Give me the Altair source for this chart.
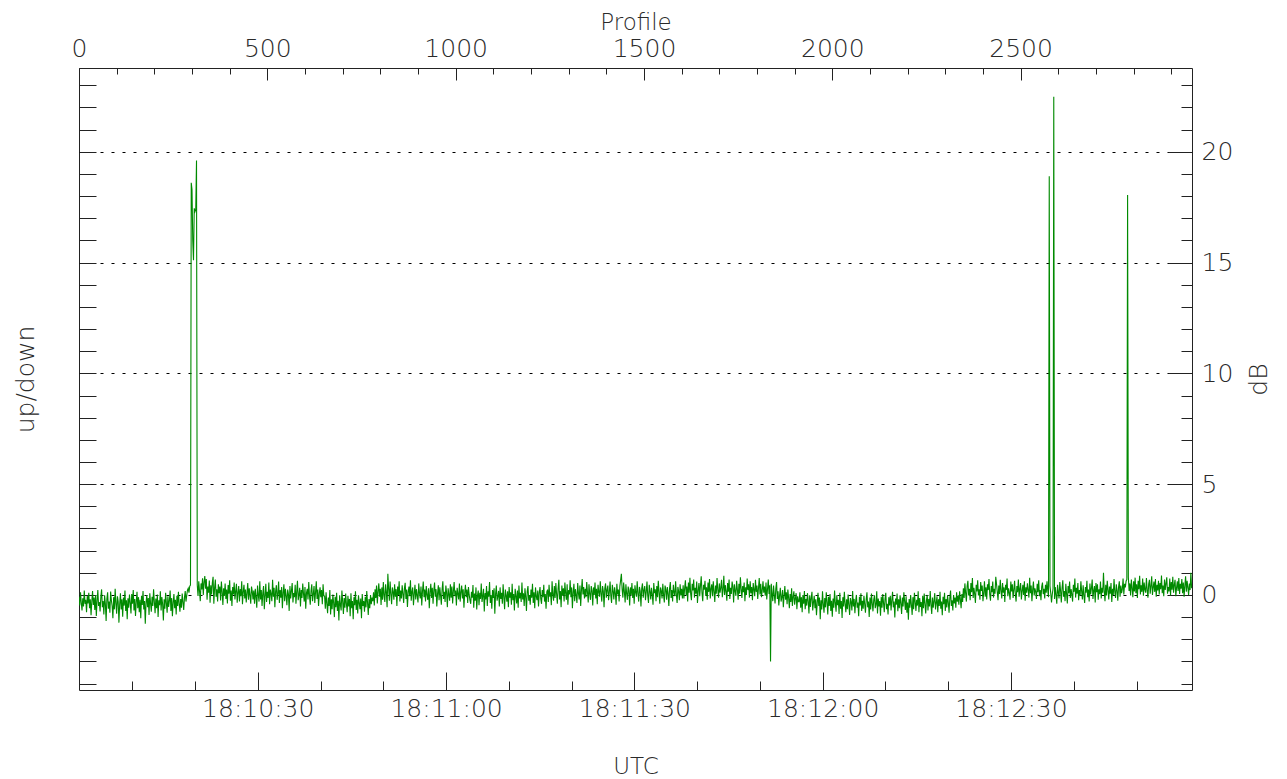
import altair as alt
import pandas as pd

# ---------------- data ----------------
# signal in hundredths of a dB, one sample every STEP profiles
STEP = 2

seg_0 = [
    -10, -48, 12, -35, -70, -15, -52, 20, -40, -22,
    -78, -5, -38, 10, -60, -20, -92, -30, 18, -45,
    -12, -68, 0, -95, -25, 22, -50, -32, -75, -8,
    25, -55, -28, -88, -2, -40, -118, -18, 12, -62,
    -30, -80, 15, -25, -50, -105, -10, -65, 28, -38,
    -85, -6, -30, -125, -42, 8, -66, -20, -98, -12,
    -48, 20, -72, -24, -110, -15, -58, 2, -35, -84,
    4, -40, 22, -70, -18, -95, -32, 14, -60, -10,
    -78, -22, -105, -4, -45, 18, -66, -28, -130, -36,
    0, -55, -14, -90, 8, -38, -76, -8, -50, 26,
    -30, -82, -16, -60, 2, -100, -24, -46, 16, -70,
    -10, -42, -115, -20, -62, 10, -36, -80, -6, -54,
    -26, 20, -72, -14, -96, -34, 4, -60, -22, -88,
    -4, -50, 14, -40, -76, -18, -58, 6, -32, -68,
    -12, 18, -30, -2, 22, 30, 10, 40, 45,
]
spike_298 = [1860, 1830, 1600, 1510, 1745, 1730, 1740, 1960]
seg_314 = [
    45, -5, 62, 18, -28, 52, 25, 75, 0, 58,
    85, 28, 72, -22, 38, 10, 65, -35, 44, 2,
    55, 82, -40, 32, 70, -8, 25, -30, 48, 8,
    38, -25, 60, 15, -45, 30, -4, 52, -18, 24,
    -38, 45, 6, 66, -26, 20, -50, 36, 2, 56,
    -20, 16, 50, -35, 10, 40, -30, 26, -6, 62,
    -42, 14, 46, -16, 24, -34, 8, 54, -22, 30,
    -2, -40, 38, 16, -20,
]
seg_464 = [
    20, -40, 28, -10, -58, 42, 0, -30, 62, -20,
    22, -50, 8, 40, -65, -2, 50, -32, 14, -14,
    56, -42, 24, 4, -28, 68, -8, 32, -55, 16,
    44, -22, 6, 60, -36, 22, -12, 36, -60, 10,
    48, -28, 28, -4, -46, 24, 4, -72, 40, -16,
    18, 54, -34, 8, -10, 46, -40, 14, 64, -24,
    0, 32, -52, 22, -14, 52, 6, -30, 36, -62,
    10, 28, -20, 58, -6, -44, 18, 48, -28, 2,
    40, -36, 12, 62, -18, 24, -50, 6, 34, -10,
    22, -42, 48, -4,
]
seg_652 = [
    -5, -62, 12, -40, -82, -12, -50, 22, -88, -20,
    -64, 2, -34, -100, -8, -55, 10, -72, -26, -115,
    -2, -45, -70, 20, -30, -86, -14, -58, 6, -40,
    -78, -4, -52, -18, -96, 8, -60, -28, -110, -10,
    -46, 16, -68, -22, -84, -2, -36, -64, -16, -105,
    4, -50, -28, -76, -8, -56, 18, -34, -90, -18,
    -60, 0, -42, -12,
]
seg_780 = [
    -28, 12, -48, 25, -14, 42, -38, 16, 52, -8,
    28, -45, 34, -22, 58, -2, -32, 48, 12, -56,
    95, 30, -26, 60, 4, -42, 34, 14, -22, 48,
    -8, 26, -50, 38, 0, 62, -30, 20, -16, 44,
    6, -36, 30, 55, -18, 24, -54, 12, 38, -6,
    66, -26, 14, 34, -46, 4, 46, -20, 26, -2,
    -34, 52, 8, -16, 38, -48, 18, 60, -10, 24,
    -30, 40, 0, -22, 30, -60, 12, 50, -14, 32,
    -40, 20, 56, -8, 26, -52, 6, 44, -24, 34,
    -4, -44, 24, 62, -18, 14, -32, 42, 8, -55,
    30, 2, -26, 48, -12, 38, -38, 18, 58, -6,
    20, -48, 32, 4, -20, 52, -30, 12, 42, -16,
    26, -58, 8, 46, -10, 24, -36, 36, 0, -24,
]
seg_1040 = [
    -40, 14, -12, 45, -58, 6, -26, 34, -66, -2,
    20, -46, 10, -18, 52, -32, -4, 28, -75, 8,
    -20, 40, -50, 16, -8, 58, -36, 0, -62, 22,
    -14, 30, -85, 4, 42, -26, -6, 18, -52, 34,
    -18, 10, -40, 48, -10, -64, 24, -2, -30, 16,
    -55, 36, -12, 12, -44, 50, -24, 4, -70, 28,
    -4, -38, 20, -58, 42, -16, 10, -32, 56, -20,
    8, -50, 30, -8, -72, 16, 40, -26, 0, -44,
    24, -12, 50, -36, 12, -60, 34, -6, -24, 20,
    -52, 10, 36, -18, -40, 22, -10, 46, -30, 4,
    -62, 14,
]
seg_1244 = [
    24, -32, 46, -8, 12, -46, 62, 0, -26, 40,
    -14, 54, 4, -40, 28, 68, -20, 18, -55, 42,
    -2, 30, -30, 56, 8, -22, 48, -44, 22, 2,
    66, -10, 34, -60, 12, 50, -28, 26, 0, -36,
    54, 8, -20, 42, -50, 22, 72, 2, 36, -16,
    28, -10, 58, 12, -34, 48, 4, -22, 40, 20,
    -48, 34, 0, 56, -16, 28, -42, 46, 14, -8,
    62, 6, -30, 40, 18, -56, 30, 52, -12, 22,
    42, -24, 12, 60, -4, -36, 46, 18, -20, 34,
    8, -44, 50, 2, 24, -30, 40, 66, 95, 26,
    -12, 56, 14, -34, 48, 6, -22, 38, 20, -48,
    34, 0, 54, -14, 28, -40, 44, 12, -8, 62,
    6, -30, 36, 18, -52, 30, 52, -12, 22, 40,
    -24, 14, 60, -4, -36, 46, 16, -20, 32, 2,
    -44, 54, 8, 26, -28, 40, -10, 64, 12, -40,
    34, 18, -16, 50, 0, -34, 42, 24, -22, 36,
    6, -50, 30, 58, -14, 22, -30, 46, 12, -6,
    62, 2, -36, 36, 16, -24, 48, -2, 28, -16,
]
seg_1604 = [
    44, -16, 30, 66, 0, 38, -30, 56, 10, 78,
    4, -24, 50, 20, 70, -12, 32, 6, 60, -36,
    20, 54, -6, 42, 84, 10, -28, 46, 24, 64,
    -2, 34, -22, 56, 14, 72, -16, 28, 48, -6,
    62, 16, -32, 42, 6, 76, 22, -12, 52, 10,
    34, 68, -10, 26, 86, 0, 44, 16, -26, 54,
    14, 70, -18, 32, 4, 60, 38, -34, 48, 18,
    -4, 64, 24, -22, 50, 6, 80, 28, -14, 40,
    12, 56, -28, 34, 0, 74, 22, 48, -12, 62,
    8, 36, -24, 54, 24, -6, 68, 14, 42, -18,
    30, 76, 2, 50, -10, 20, 62, 10, 38, -4,
    56, -20, 26, 70, 4, 44,
]
dip_1836 = [-300]
seg_1838 = [
    50, 4, -28, 42, 0, -38, 28, 58, -18, 16,
    -48, -2, 32, -30, -10, 22, -55, -4, 40, -22,
    12, -42, 24, -14, -60, 4, -32, 30, -50, -8,
    16, -44, -16, 8, -64, -6, -30,
]
seg_1912 = [
    -30, 12, -58, -10, -78, 0, -40, 18, -64, -18,
    -48, 8, -28, -84, -2, -54, -14, 14, -70, -34,
    -4, -60, -20, -92, -36, 10, -50, -12, -110, -24,
    -66, 16, -42, -80, -14, -56, 12, -32, -88, -8,
    -50, 4, -72, -26, -98, -16, -58, 20, -36, -76,
    -2, -46, -22, -86, 10, -62, -28, -104, -10, -52,
    14, -40, -78, -20, -64, 2, -44, -90, -14, -32,
    -70, 18, -52, -18, -82, -28, 0, -58, -34, -96,
    -8, -48, 8, -72, -26, -62, -4, -42, -80, -20,
    12, -56, -30, -100, -12, -66, 6, -38, -74, -22,
    -2, -60, -44, 16, -84, -16, -52, -28, -94, -8,
    -58, 4, -36, -78, -18, 10, -64, -40, -88, -10,
    -48, -4, -70, -24, 14, -56, -30, -102, -16, -44,
    6, -74, -20, -60, -2, -38, -86, -12, -52, 12,
    -28, -68, -6, -80, -34, -112, -18, -58, 0, -44,
    -90, -10, -64, 10, -30, -72, -22, -48, 16, -78,
    -14, -54, -32, -96, -4, -60, 6, -40, -84, -24,
    0, -70, -18, -52, 18, -44, -86, -12, -58, -28,
    8, -66, -36, -6, -78, -20, -50, 14, -62, -30,
    -92, -8, -42, 10, -72, -18, -56, -2, -34, -80,
    -14, 20, -50, -24, -70, 0, -38, -12, -58, 12,
    -30, -4, -44, 16, -20, -60, 4, -32,
]
seg_2348 = [
    30, -14, 52, 8, -30, 40, 64, -2, 28, -24,
    54, 12, 76, -14, 32, 4, -36, 46, 16, 66,
    -2, 26, -22, 58, 18, 42, -28, 10, 62, -8,
    34, -20, 48, 22, 72, 2, -26, 40, 12, 60,
    -12, 28, 6, 82, 50, 14, -24, 42, 4, 68,
    18, -16, 54, 10, 34, -32, 46, 22, 74, -6,
    30, 8, -22, 60, 16, 48, -14, 24, 64, 2,
    -30, 40, 12, 70, -8, 28, 54, -20, 18, 46,
    0, 62, -26, 34, 10, 52, 22, -12, 78, 8,
    42, -28, 24, 60, -2, 30, 14, -18, 50, 12,
    66, -6, 22, -24, 38, 56, 4, 28, -16, 46,
    10, 62, 20, -10,
]
spike_2576 = [1890]
seg_2578 = [40, 8, -34, 2, 28]
spike_2588 = [2248]
seg_2590 = [
    -18, 36, 0, -40, 46, 12, -16, 58, 20, -34,
    30, 66, -8, 18, -28, 50, 4, -38, 40, 8,
    60, -14, 26, 2, -30, 46, 14, 74, -12, 32,
    6, 54, -24, 22, -2, 62, 16, -20, 44, -4,
    -36, 36, 10, 64, -10, 24, -30, 52, 2, 30,
    70, -18, 20, 40, -34, 54, 12, 48, -22, 26,
    4, 60, -16, 32, 10, 100, 18, -28, 46, -2,
    64, 22, -20, 38, 6, 54, -32, 28, 0, 72,
    14, -14, 48, 20, -26, 36, 62, -8, 42, 8,
    26, 74, 2, 50, 34, 62, 70,
]
spike_2784 = [1805]
seg_2786 = [
    80, 18, 52, -2, 70, 30, -10, 62, 16, 78,
    8, 48, -14, 64, 26, 86, 2, 44, 14, 74,
    -4, 56, 24, 10, 76, 22, -12, 50, 68, 6,
    40, 84, 0, 34, 60, 14, 72, -8, 46, 20,
    64, 2, 54, 26, 88, 8, 42, -6, 70, 22,
    52, 80, 6, 36, 16, 74, -2, 58, 24, 82,
    10, 46, 68, -6, 32, 62, 18, 76, 4, 50,
    28, 72, 8, 56, -8, 42, 84, 14, 64, 34,
    0, 52, 22, 100, 30,
]

# start profile of each segment
segments = [
    (0, seg_0), (298, spike_298), (314, seg_314), (464, seg_464),
    (652, seg_652), (780, seg_780), (1040, seg_1040), (1244, seg_1244),
    (1604, seg_1604), (1836, dip_1836), (1838, seg_1838), (1912, seg_1912),
    (2348, seg_2348), (2576, spike_2576), (2578, seg_2578),
    (2588, spike_2588), (2590, seg_2590), (2784, spike_2784),
    (2786, seg_2786),
]

# axis definitions
PROFILE_DOMAIN = [0, 2955]
PROFILE_TICKS = [0, 500, 1000, 1500, 2000, 2500]
PROFILE_MINOR = list(range(0, 3000, 100))
TIME_DOMAIN = [1.52, 178.84]          # seconds after 18:10:00 UTC
TIME_TICKS = [30, 60, 90, 120, 150]
TIME_LABELS = ["18:10:30", "18:11:00", "18:11:30", "18:12:00", "18:12:30"]
TIME_MINOR = list(range(10, 180, 10))
DB_DOMAIN = [-4.29, 23.78]
DB_TICKS = [0, 5, 10, 15, 20]
DB_MINOR = list(range(-4, 24))

rows = []
for start, vals in segments:
    for k, v in enumerate(vals):
        rows.append({"profile": start + STEP * k, "db": v / 100.0})
df = pd.DataFrame(rows)
dummy = pd.DataFrame({"profile": [0.0], "t": [30.0], "db": [0.0]})

# ---------------- chart ----------------
W, H = 1113, 622
FONT = "DejaVu Sans"
LBL = 25
INK = "#2a2a2a"
TICK = "#222222"

time_expr = "''"
for v, lab in reversed(list(zip(TIME_TICKS, TIME_LABELS))):
    time_expr = f"datum.value == {v} ? '{lab}' : ({time_expr})"

x_prof = alt.Scale(domain=PROFILE_DOMAIN, nice=False, zero=False)
x_time = alt.Scale(domain=TIME_DOMAIN, nice=False, zero=False)
y_db = alt.Scale(domain=DB_DOMAIN, nice=False, zero=False)

line = alt.Chart(df).mark_line(color="#008a00", strokeWidth=1.1, clip=True).encode(
    x=alt.X("profile:Q", scale=x_prof, axis=alt.Axis(
        orient="top", values=PROFILE_TICKS, format="d", tickSize=12, offset=-12,
        labelPadding=7, title="Profile", titleFontSize=23,
        titleBaseline="alphabetic", titleX=W / 2, titleY=-50.8)),
    y=alt.Y("db:Q", scale=y_db, axis=alt.Axis(
        orient="right", values=DB_TICKS, format="d", tickSize=24, offset=-24,
        labelPadding=9, title="dB", titleFontSize=25, titleAngle=270,
        titleBaseline="alphabetic", titleX=98.7, titleY=H / 2, grid=True,
        gridDash=[3, 8], gridColor="#000000", gridWidth=1, gridOpacity=1)),
)

minor_top_right = alt.Chart(dummy).mark_point(opacity=0).encode(
    x=alt.X("profile:Q", scale=x_prof, axis=alt.Axis(
        orient="top", values=PROFILE_MINOR, tickSize=6, offset=-6,
        labels=False, title="")),
    y=alt.Y("db:Q", scale=y_db, axis=alt.Axis(
        orient="right", values=DB_MINOR, tickSize=11, offset=-11,
        labels=False, title="")),
)

bottom_left = alt.Chart(dummy).mark_point(opacity=0).encode(
    x=alt.X("t:Q", scale=x_time, axis=alt.Axis(
        orient="bottom", values=TIME_TICKS, labelExpr=time_expr, tickSize=18,
        offset=-18, labelPadding=6, title="UTC", titleFontSize=23,
        titleBaseline="alphabetic", titleX=W / 2, titleY=101)),
    y=alt.Y("db:Q", scale=y_db, axis=alt.Axis(
        orient="left", values=DB_MINOR, tickSize=17, offset=-17,
        labels=False, title="up/down", titleFontSize=25, titleAngle=270,
        titleBaseline="alphabetic", titleX=-63, titleY=H / 2)),
)

bottom_minor = alt.Chart(dummy).mark_point(opacity=0).encode(
    x=alt.X("t:Q", scale=x_time, axis=alt.Axis(
        orient="bottom", values=TIME_MINOR, tickSize=9, offset=-9,
        labels=False, title="")),
    y=alt.Y("db:Q", scale=y_db, axis=None),
)

chart = (
    alt.layer(line, minor_top_right, bottom_left, bottom_minor)
    .resolve_scale(x="independent")
    .resolve_axis(x="independent", y="independent")
    .properties(
        width=W, height=H,
        autosize=alt.AutoSizeParams(type="none"),
        padding={"left": 71, "top": 60, "right": 85, "bottom": 89},
    )
    .configure_view(stroke="#222222", strokeWidth=1)
    .configure_axis(
        grid=False, domain=False, tickColor=TICK, tickWidth=1,
        labelFont=FONT, labelFontSize=LBL, labelFontWeight=200,
        labelColor=INK, labelFlush=False, labelOverlap=False, labelBound=False,
        titleFont=FONT, titleFontWeight=200, titleColor=INK,
    )
)

chart.save("out.html", embed_options={"renderer": "svg", "actions": False})
